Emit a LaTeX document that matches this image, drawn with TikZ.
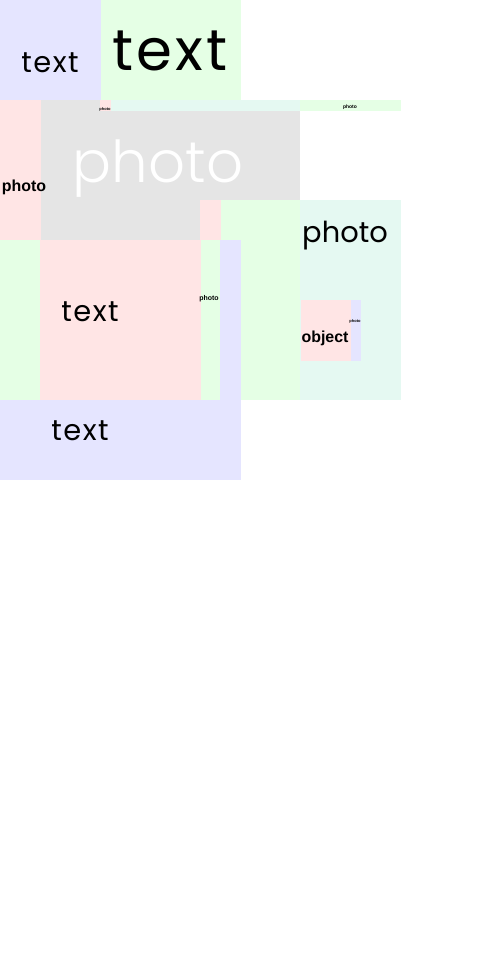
\documentclass[tikz,border=0pt]{standalone}
\usepackage{fontspec}
\setmainfont{Poppins}
\newfontfamily\popl{Poppins Light}
\newfontfamily\popsp[LetterSpace=5]{Poppins}
\newfontfamily\arialb{Liberation Sans}
\definecolor{cblue}{RGB}{229,229,255}
\definecolor{cgreen}{RGB}{229,255,229}
\definecolor{cpink}{RGB}{255,229,229}
\definecolor{ccyan}{RGB}{229,249,242}
\definecolor{cgray}{RGB}{229,229,229}
\begin{document}
\begin{tikzpicture}[x=1bp,y=-1bp,
  lbl/.style={inner sep=0pt,anchor=base,text=black},
  bold/.style={lbl,font=\arialb\bfseries}]
\useasboundingbox (0,0) rectangle (480,960);
\fill[white] (0,0) rectangle (480,960);
% rectangles
\fill[cblue]  (0,0) rectangle (101,100);
\fill[cgreen] (101,0) rectangle (241,100);
\fill[cgray]  (41,100) rectangle (300,240);
\fill[cpink]  (100,100) rectangle (111,111);
\fill[ccyan]  (111,100) rectangle (300,111);
\fill[cgreen] (300,100) rectangle (401,111);
\fill[cpink]  (0,100) rectangle (41,240);
\fill[cpink]  (200,200) rectangle (221,240);
\fill[cgreen] (221,200) rectangle (300,400);
\fill[ccyan]  (300,200) rectangle (401,400);
\fill[cpink]  (301,300) rectangle (351,361);
\fill[cblue]  (351,300) rectangle (361,361);
\fill[cgreen] (0,240) rectangle (40,400);
\fill[cpink]  (40,240) rectangle (201,400);
\fill[cgreen] (201,240) rectangle (220,400);
\fill[cblue]  (220,240) rectangle (241,400);
\fill[cblue]  (0,400) rectangle (241,480);
% labels
\node[lbl,font=\popsp\fontsize{29}{30}\selectfont] (t1) at (50,72) {text};
\node[lbl,font=\popsp\fontsize{58}{60}\selectfont] (t2) at (170,70) {text};
\node[bold,font=\arialb\bfseries\fontsize{4}{5}\selectfont] (s1) at (105,110) {photo};
\node[bold,font=\arialb\bfseries\fontsize{5}{6}\selectfont] (s2) at (350,108) {photo};
\node[bold,font=\arialb\bfseries\fontsize{16}{18}\selectfont] (p1) at (24,191) {photo};
\node[lbl,text=white,font=\popl\fontsize{58}{60}\selectfont] (p2) at (158,182) {photo};
\node[lbl,font=\fontsize{29}{30}\selectfont] (p3) at (345,242) {photo};
\node[lbl,font=\popsp\fontsize{29}{30}\selectfont] (t3) at (90,321) {text};
\node[bold,font=\arialb\bfseries\fontsize{7}{8}\selectfont] (s3) at (209,300) {photo};
\node[bold,font=\arialb\bfseries\fontsize{16}{18}\selectfont] (o1) at (325,342) {object};
\node[bold,font=\arialb\bfseries\fontsize{4}{5}\selectfont] (s4) at (355,322) {photo};
\node[lbl,font=\popsp\fontsize{29}{30}\selectfont] (t4) at (80,440) {text};
\end{tikzpicture}
\end{document}
